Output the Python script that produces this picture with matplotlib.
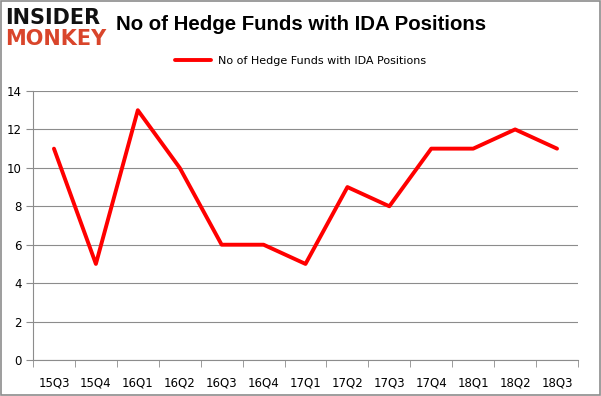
import matplotlib
matplotlib.use("Agg")
import matplotlib.pyplot as plt
from matplotlib.patches import Rectangle

quarters = ["15Q3", "15Q4", "16Q1", "16Q2", "16Q3", "16Q4", "17Q1",
            "17Q2", "17Q3", "17Q4", "18Q1", "18Q2", "18Q3"]
funds = [11, 5, 13, 10, 6, 6, 5, 9, 8, 11, 11, 12, 11]
yticks = [0, 2, 4, 6, 8, 10, 12, 14]
title = "No of Hedge Funds with IDA Positions"

fig = plt.figure(figsize=(6.01, 3.96), dpi=100)
fig.patch.set_facecolor("white")
fig.patches.append(Rectangle((0.002, 0.003), 0.996, 0.994, transform=fig.transFigure,
                             fill=False, edgecolor="#8c8c8c", linewidth=1.2))

ax = fig.add_axes([33/601, 1-360/396, (578-33)/601, (360-91)/396])
x = list(range(len(quarters)))
ax.plot(x, funds, color="#ff0000", linewidth=2.8, label="No of Hedge Funds with IDA Positions",
        solid_capstyle="round", solid_joinstyle="round")
ax.set_xlim(-0.5, len(quarters)-0.5)
ax.set_ylim(0, 14)
ax.set_yticks(yticks)
ax.set_yticklabels([str(v) for v in yticks], fontsize=8.5)
ax.set_xticks(x)
ax.set_xticklabels(quarters, fontsize=8.5)
ax.tick_params(axis="x", length=0, pad=12)
ax.tick_params(axis="y", length=5, color="#8c8c8c", pad=3)
ax.set_xticks([i - 0.5 for i in range(len(quarters)+1)], minor=True)
ax.tick_params(axis="x", which="minor", length=5, color="#8c8c8c")
ax.grid(axis="y", color="#8c8c8c", linewidth=0.8)
ax.set_axisbelow(True)
for s in ["top", "right"]:
    ax.spines[s].set_visible(False)
for s in ["left", "bottom"]:
    ax.spines[s].set_color("#8c8c8c")
    ax.spines[s].set_linewidth(0.8)

fig.text(301/601, 1-25/396, title, ha="center", va="center", fontsize=14.7, fontweight="bold",
         family="Liberation Sans")
leg = fig.legend(loc="center", bbox_to_anchor=(0.5, 1-61/396), frameon=False, fontsize=8,
                 handlelength=3.2, handletextpad=0.6)

fig.text(5/601, 1-18/396, "INSIDER", ha="left", va="center", fontsize=15, fontweight="heavy",
         color="#111111", family="DejaVu Sans")
fig.text(5/601, 1-39/396, "MONKEY", ha="left", va="center", fontsize=15, fontweight="heavy",
         color="#d9452b", family="DejaVu Sans")

fig.savefig("out.png", dpi=100)
